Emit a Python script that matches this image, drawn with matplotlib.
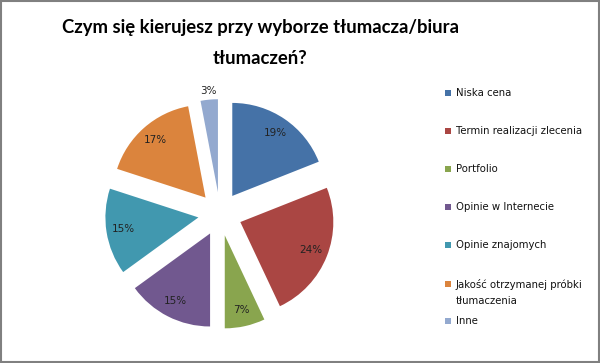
import matplotlib
matplotlib.use("Agg")
import matplotlib.pyplot as plt
import numpy as np

labels = ['Niska cena', 'Termin realizacji zlecenia', 'Portfolio',
          'Opinie w Internecie', 'Opinie znajomych',
          'Jakość otrzymanej próbki\ntłumaczenia', 'Inne']
values = [19, 24, 7, 15, 15, 17, 3]
colors = ['#4572A7', '#AA4643', '#89A54E', '#71588F', '#4198AF', '#DB843D', '#93A9CF']

fig = plt.figure(figsize=(6, 3.63), dpi=100)

# pie: center ~ (220, 214) px from top-left, radius ~93 px
R = 93
cxp, cyp = 220, 214
half = 1.4
side = 2 * half * R
ax = fig.add_axes([(cxp - side / 2) / 600, (363 - cyp - side / 2) / 363, side / 600, side / 363])
wedges, texts, autotexts = ax.pie(values, colors=colors, startangle=90, counterclock=False,
                                  explode=[0.235] * len(values), autopct='%1.0f%%',
                                  pctdistance=0.82, radius=1,
                                  wedgeprops=dict(linewidth=0),
                                  textprops=dict(fontsize=7.5, color='#222222', family='DejaVu Sans'))
ax.set_xlim(-half, half)
ax.set_ylim(-half, half)
ax.set_aspect('equal')
ax.axis('off')

# small slice label sits outside the wedge
w = wedges[-1]
mid = np.deg2rad((w.theta1 + w.theta2) / 2)
cx, cy = w.center
autotexts[-1].set_position((cx + 1.09 * np.cos(mid), cy + 1.09 * np.sin(mid)))

fig.text(260 / 600, 1 - 27 / 363, 'Czym się kierujesz przy wyborze tłumacza/biura',
         ha='center', va='center', fontsize=13.3, fontweight='bold', family='Lato')
fig.text(260 / 600, 1 - 58 / 363, 'tłumaczeń?',
         ha='center', va='center', fontsize=13.3, fontweight='bold', family='Lato')

# legend
leg_y = [93, 131, 169, 207, 245, 284, 321]
for i, lab in enumerate(labels):
    y = leg_y[i]
    fig.patches.append(plt.Rectangle((445 / 600, 1 - (y + 3) / 363), 6 / 600, 6 / 363,
                                     transform=fig.transFigure, facecolor=colors[i],
                                     edgecolor='none'))
    parts = lab.split('\n')
    for j, part in enumerate(parts):
        fig.text(456 / 600, 1 - (y + 17 * j) / 363, part, ha='left', va='center',
                 fontsize=7.3, family='DejaVu Sans', color='#111111')

# outer gray border
fig.patches.append(plt.Rectangle((0.0015, 0.0025), 0.997, 0.995, transform=fig.transFigure,
                                 facecolor='none', edgecolor='#808080', linewidth=1.5))

fig.savefig('out.png', dpi=100)
